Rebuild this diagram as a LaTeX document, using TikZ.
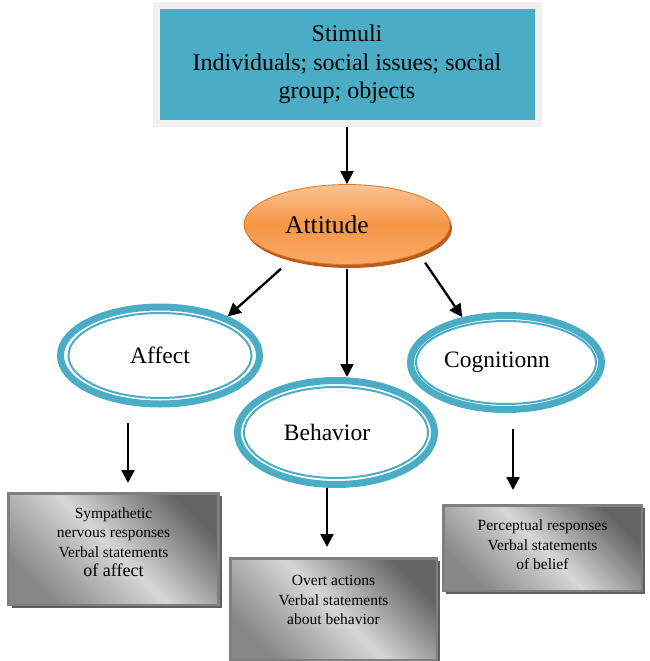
\documentclass[tikz,border=0pt]{standalone}
\usepackage{fontspec}
\setmainfont{Liberation Serif}
\usetikzlibrary{calc,positioning,shapes.geometric,shadows,arrows.meta}
\definecolor{stimteal}{RGB}{75,172,198}
\definecolor{stimframe}{RGB}{240,240,240}
\definecolor{stimshadow}{RGB}{150,163,172}
\definecolor{attlight}{RGB}{250,196,150}
\definecolor{attmid}{RGB}{247,150,70}
\definecolor{attbottom}{RGB}{248,170,105}
\definecolor{attborder}{RGB}{228,118,30}
\definecolor{attshadow}{RGB}{185,92,28}
\definecolor{boxdark}{RGB}{100,100,100}
\definecolor{boxlight}{RGB}{215,215,215}
\definecolor{boxmid}{RGB}{135,135,135}
\definecolor{boxborder}{RGB}{128,128,128}
\definecolor{boxshadow}{RGB}{95,95,95}

\begin{document}
\begin{tikzpicture}[x=1pt,y=-1pt,
     stimbox/.style = {draw=stimframe, fill=stimteal, rectangle, line width=7pt, inner sep=0pt,
      minimum width=382pt, minimum height=118pt, align=center, font=\fontsize{24}{28.5}\selectfont,
      drop shadow={shadow xshift=3pt, shadow yshift=-3pt, fill=stimshadow, opacity=1}},
     attell/.style = {ellipse, draw=attborder, line width=0.8pt, top color=attlight, bottom color=attbottom,
      middle color=attmid, minimum width=206pt, minimum height=80pt, inner sep=0pt,
      font=\fontsize{25.5}{30}\selectfont,
      drop shadow={shadow xshift=2pt, shadow yshift=-3.5pt, fill=attshadow, opacity=1}},
     ring/.style = {ellipse, draw=stimteal, line width=7pt, inner sep=0pt, font=\fontsize{23.5}{28}\selectfont},
     inring/.style = {draw=stimteal, line width=2pt},
     graybox/.style = {rectangle, draw=boxborder, line width=2.5pt, top color=boxdark, bottom color=boxmid,
      middle color=boxlight, shading angle=-45, inner sep=0pt, align=center,
      font=\fontsize{15.5}{19.5}\selectfont,
      drop shadow={shadow xshift=3pt, shadow yshift=-3pt, fill=boxshadow, opacity=1}},
     arrow/.style = {draw, line width=2.3pt, -{Triangle[length=13pt,width=13pt]}}
    ]
    \useasboundingbox (0,0) rectangle (649,661);

    \node [stimbox] (stim) at (347,64.5) {Stimuli\\Individuals; social issues; social\\group; objects};
    \node [attell, below of=stim, node distance=160pt] (att) {Attitude\hspace*{40pt}};
    \node [ring, minimum width=199pt, minimum height=97pt, below of=att, node distance=131pt, xshift=-187pt] (aff) {Affect};
    \node [ring, minimum width=197pt, minimum height=104pt, below of=att, node distance=208pt, xshift=-11pt] (beh) {Behavior\hspace*{18pt}};
    \node [ring, minimum width=191pt, minimum height=94pt, below of=att, node distance=138pt, xshift=159pt] (cog) {Cognitionn\hspace*{18pt}};
    \node [graybox, text depth=14pt, minimum width=210pt, minimum height=111.5pt, below of=aff, node distance=193.5pt, xshift=-46.5pt] (affbox)
      {Sympathetic\\nervous responses\\Verbal statements\\{\fontsize{18}{21}\selectfont of affect}};
    \node [graybox, text depth=18pt, minimum width=206.5pt, minimum height=101.5pt, below of=beh, node distance=176.5pt, xshift=-2.5pt] (behbox)
      {Overt actions\\Verbal statements\\about behavior};
    \node [graybox, text depth=6pt, minimum width=198.5pt, minimum height=85.5pt, below of=cog, node distance=185.5pt, xshift=36.5pt] (cogbox)
      {Perceptual responses\\Verbal statements\\of belief};

    \draw [inring] (aff.center) ellipse [x radius=91.5pt, y radius=42.5pt];
    \draw [inring] (beh.center) ellipse [x radius=92pt, y radius=45.5pt];
    \draw [inring] (cog.center) ellipse [x radius=90pt, y radius=41.5pt];

    \draw [arrow] (stim) -- (att);
    \draw [arrow, shorten <=15pt] (att.212) -- (aff.30);
    \draw [arrow, shorten <=4pt] (att.south) -- (att.south |- beh.north);
    \draw [arrow, shorten <=11pt] (att.338) -- (cog.134);
    \draw [arrow, shorten <=15.5pt, shorten >=9pt] ([xshift=-32pt]aff.south) -- ([xshift=14.5pt]affbox.north);
    \draw [arrow, shorten >=10pt] ([xshift=-9pt]beh.south) -- ([xshift=-6.5pt]behbox.north);
    \draw [arrow, shorten <=16pt, shorten >=14pt] ([xshift=7pt]cog.south) -- ([xshift=-29.5pt]cogbox.north);

\end{tikzpicture}
\end{document}
